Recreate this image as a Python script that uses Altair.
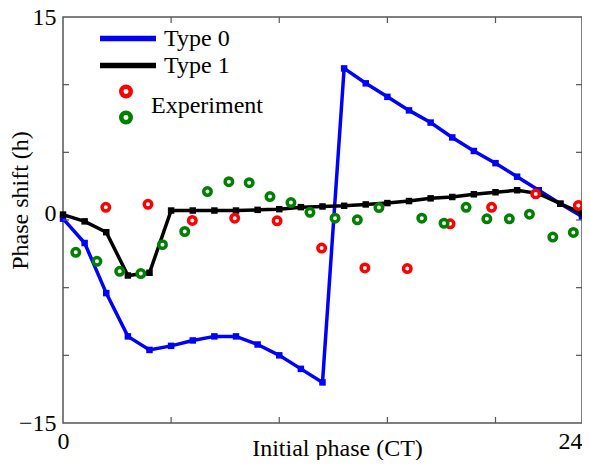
import altair as alt
import pandas as pd

# ---- data ----
hours = list(range(25))
type0 = [0.1, -1.7, -5.4, -8.6, -9.6, -9.3, -8.9, -8.6, -8.6, -9.2, -10.0, -11.0, -12.0,
         11.2, 10.1, 9.1, 8.1, 7.2, 6.1, 5.1, 4.2, 3.2, 2.2, 1.2, 0.25]
type1 = [0.4, -0.1, -0.9, -4.1, -3.9, 0.7, 0.7, 0.7, 0.7, 0.75, 0.8, 0.95, 1.0,
         1.05, 1.15, 1.25, 1.4, 1.6, 1.7, 1.9, 2.05, 2.2, 1.95, 1.2, 0.5]
red_x = [1.98, 3.93, 5.98, 7.94, 9.9, 11.96, 13.96, 15.92, 17.9, 19.82, 21.86, 23.83]
red_y = [0.94, 1.16, -0.03, 0.13, -0.06, -2.07, -3.54, -3.59, -0.28, 0.94, 1.93, 1.07]
green_x = [0.59, 1.57, 2.62, 3.6, 4.6, 5.63, 6.68, 7.67, 8.61, 9.57, 10.54, 11.42,
           12.58, 13.61, 14.61, 16.59, 17.62, 18.64, 19.6, 20.64, 21.57, 22.65, 23.6]
green_y = [-2.39, -3.05, -3.79, -3.96, -1.82, -0.85, 2.10, 2.83, 2.76, 1.73, 1.29, 0.57,
           0.13, 0.01, 0.92, 0.13, -0.24, 0.94, 0.09, 0.09, 0.43, -1.26, -0.92]
series_names = ["Type 0", "Type 1"]
x_tick_values = [5, 10, 15, 20]
y_tick_values = [-10, -5, 0, 5, 10]
x_label_values = [0, 24]
y_label_values = [-15, 0, 15]

W, H = 519, 406
FONT = "Liberation Serif"
FRAME = "#555555"

df_lines = pd.DataFrame({
    "h": hours + hours,
    "ps": type0 + type1,
    "series": [series_names[0]] * len(hours) + [series_names[1]] * len(hours),
})
df_exp = pd.DataFrame({
    "h": red_x + green_x,
    "ps": red_y + green_y,
    "grp": ["r"] * len(red_x) + ["g"] * len(green_x),
})
df_xt = pd.DataFrame({"h": x_tick_values})
df_yt = pd.DataFrame({"ps": y_tick_values})

xs = alt.Scale(domain=[0, 24], nice=False, zero=False)
ys = alt.Scale(domain=[-15, 15], nice=False, zero=False)

xaxis = alt.Axis(
    values=x_label_values, ticks=False, tickSize=0, domain=False, grid=False,
    title="Initial phase (CT)", labelFontSize=24, titleFontSize=24,
    labelFont=FONT, titleFont=FONT, titleFontWeight="normal",
    labelColor="black", titleColor="black", labelPadding=6,
    labelAlign={"condition": {"test": "datum.value >= 24", "value": "right"}, "value": "center"},
    labelFlush=False, labelOverlap=False,
    titleX=274, titleY=32, titleAlign="center", titleBaseline="alphabetic",
)
yaxis = alt.Axis(
    values=y_label_values, ticks=False, tickSize=0, domain=False, grid=False,
    title="Phase shift (h)", labelFontSize=24, titleFontSize=24,
    labelFont=FONT, titleFont=FONT, titleFontWeight="normal",
    labelColor="black", titleColor="black", labelPadding=7,
    labelBaseline={"condition": {"test": "datum.value == 0", "value": "alphabetic"}, "value": "middle"},
    labelFlush=False, labelOverlap=False,
    titleAngle=270, titleX=-36, titleY=183, titleAlign="center", titleBaseline="alphabetic",
)

color_scale = alt.Scale(domain=series_names, range=["#0000ff", "#000000"])

lines = alt.Chart(df_lines).mark_line(strokeWidth=3.5).encode(
    x=alt.X("h:Q", scale=xs, axis=xaxis),
    y=alt.Y("ps:Q", scale=ys, axis=yaxis),
    color=alt.Color("series:N", scale=color_scale, legend=alt.Legend(
        title=None, orient="none", legendX=34, legendY=8, padding=0,
        symbolType="stroke", symbolSize=3136, symbolStrokeWidth=5.5,
        clipHeight=27, rowPadding=0, labelFontSize=24, labelFont=FONT,
        labelColor="black", labelOffset=5, labelBaseline="middle",
    )),
)
markers = alt.Chart(df_lines).mark_point(shape="square", filled=True, size=42, opacity=1).encode(
    x=alt.X("h:Q"), y=alt.Y("ps:Q"),
    color=alt.Color("series:N", scale=color_scale, legend=None),
)
points = alt.Chart(df_exp).mark_point(
    shape="circle", filled=False, fill="white", fillOpacity=1, strokeWidth=3.5, size=56, opacity=1
).encode(
    x=alt.X("h:Q"), y=alt.Y("ps:Q"),
    stroke=alt.Stroke("grp:N", scale=alt.Scale(domain=["r", "g"], range=["#ff0000", "#008000"]),
                      legend=alt.Legend(
                          title=None, orient="none", legendX=51, legendY=62, padding=0,
                          symbolType="circle", symbolSize=90, symbolStrokeWidth=4.5,
                          symbolFillColor="white", clipHeight=25, rowPadding=-11,
                          labelFontSize=24, labelFont=FONT, labelColor="black", labelOffset=13,
                          labelExpr="datum.label == 'g' ? 'Experiment' : ''",
                          labelBaseline="bottom",
                      )),
)

tick_style = dict(color=FRAME, strokeWidth=1.2)
bottom_t = alt.Chart(df_xt).mark_rule(**tick_style).encode(x=alt.X("h:Q"), y=alt.value(H), y2=alt.value(H - 6))
top_t = alt.Chart(df_xt).mark_rule(**tick_style).encode(x=alt.X("h:Q"), y=alt.value(0), y2=alt.value(6))
left_t = alt.Chart(df_yt).mark_rule(**tick_style).encode(y=alt.Y("ps:Q"), x=alt.value(0), x2=alt.value(6))
right_t = alt.Chart(df_yt).mark_rule(**tick_style).encode(y=alt.Y("ps:Q"), x=alt.value(W), x2=alt.value(W - 6))

chart = alt.layer(lines, markers, points, bottom_t, top_t, left_t, right_t).properties(
    width=W, height=H,
    autosize=alt.AutoSizeParams(type="none"),
    padding={"left": 55, "top": 9, "right": 0, "bottom": 37},
).configure(font=FONT).configure_view(stroke=FRAME, strokeWidth=1.5)

chart.save("out.html", embed_options={"renderer": "svg", "actions": False})
